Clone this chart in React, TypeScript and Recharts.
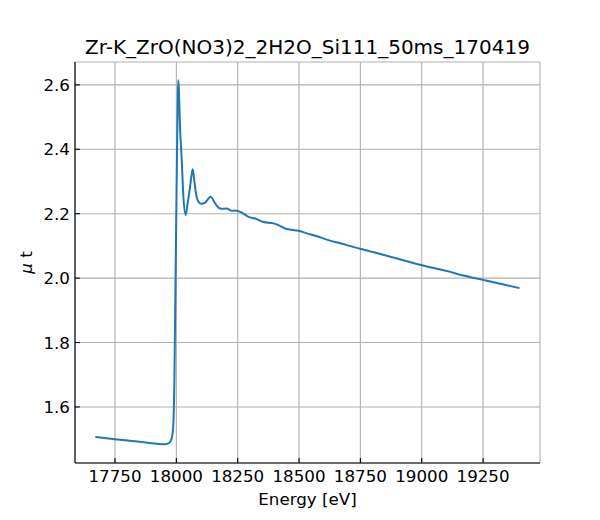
import React from 'react';
import {
  LineChart,
  Line,
  XAxis,
  YAxis,
  CartesianGrid,
  Customized,
} from 'recharts';

// Spectrum
const energy = [
  17670, 17750, 17850, 17920, 17954, 17970, 17980, 17985, 17988, 17992,
  17995, 17999, 18003, 18006, 18008, 18011, 18015, 18022, 18028, 18038,
  18046, 18056, 18063, 18067, 18073, 18080, 18090, 18100, 18117, 18132,
  18140, 18154, 18170, 18185, 18205, 18226, 18240, 18253, 18270, 18294,
  18321, 18355, 18396, 18420, 18443, 18470, 18497, 18532, 18573, 18620,
  18668, 18749, 18790, 18831, 18899, 19001, 19103, 19170, 19252, 19334,
  19399,
];
const mu = [
  1.507, 1.5, 1.492, 1.486, 1.484, 1.488, 1.5, 1.52, 1.55, 1.683,
  1.88, 2.149, 2.4, 2.56, 2.615, 2.57, 2.47, 2.366, 2.263, 2.196,
  2.232, 2.284, 2.325, 2.338, 2.304, 2.263, 2.237, 2.231, 2.234, 2.248,
  2.253, 2.237, 2.22, 2.215, 2.216, 2.209, 2.21, 2.208, 2.202, 2.19,
  2.185, 2.174, 2.17, 2.163, 2.154, 2.15, 2.147, 2.139, 2.13, 2.118,
  2.108, 2.091, 2.083, 2.075, 2.061, 2.04, 2.022, 2.008, 1.994, 1.98,
  1.969,
];

const xTicks = [17750, 18000, 18250, 18500, 18750, 19000, 19250];
const yTicks = [1.6, 1.8, 2.0, 2.2, 2.4, 2.6];
const xDomain = [17587, 19482];
const yDomain = [1.426, 2.671];

const TITLE = 'Zr-K_ZrO(NO3)2_2H2O_Si111_50ms_170419';
const FONT = '"DejaVu Sans", sans-serif';
const FS = 16.7;
const TICK_PAD = 5;
const TICK_LEN = 4.9;

const data = energy.map((e, i) => ({ energy: e, mu: mu[i] }));

const XTick = (props: any) => {
  const { x, y, payload } = props;
  const axisY = y - TICK_PAD;
  return (
    <g>
      <line x1={x} x2={x} y1={axisY} y2={axisY - TICK_LEN} stroke="#000" strokeWidth={1.1} />
      <text x={x} y={y} dy={13.5} textAnchor="middle" fontSize={FS} fontFamily={FONT} fill="#000">
        {payload.value}
      </text>
    </g>
  );
};

const YTick = (props: any) => {
  const { x, y, payload } = props;
  const axisX = x + TICK_PAD;
  return (
    <g>
      <line x1={axisX} x2={axisX + TICK_LEN} y1={y} y2={y} stroke="#000" strokeWidth={1.1} />
      <text x={x} y={y} dy={6} textAnchor="end" fontSize={FS} fontFamily={FONT} fill="#000">
        {Number(payload.value).toFixed(1)}
      </text>
    </g>
  );
};

const App: React.FC = () => {
  return (
    <div style={{ position: 'absolute', left: 0, top: 0, background: '#fff' }}>
      <LineChart
        width={600}
        height={520}
        data={data}
        margin={{ top: 62, right: 60, bottom: 0, left: 0 }}
      >
        <CartesianGrid stroke="#b0b0b0" strokeWidth={1.1} />
        <XAxis
          dataKey="energy"
          type="number"
          domain={xDomain}
          ticks={xTicks}
          height={57}
          tickSize={0}
          tickMargin={TICK_PAD}
          tick={<XTick />}
          axisLine={{ stroke: '#000', strokeWidth: 1.1 }}
          allowDataOverflow
          label={{
            content: (p: any) => (
              <text
                x={p.viewBox.x + p.viewBox.width / 2}
                y={p.viewBox.y + 42}
                textAnchor="middle"
                fontSize={FS}
                fontFamily={FONT}
                fill="#000"
              >
                Energy [eV]
              </text>
            ),
          }}
        />
        <XAxis
          xAxisId="top"
          orientation="top"
          type="number"
          domain={xDomain}
          height={0}
          tick={false}
          tickLine={false}
          axisLine={{ stroke: '#000', strokeWidth: 1.1 }}
        />
        <YAxis
          type="number"
          domain={yDomain}
          ticks={yTicks}
          width={75}
          tickSize={0}
          tickMargin={TICK_PAD}
          tick={<YTick />}
          axisLine={{ stroke: '#000', strokeWidth: 1.1 }}
          allowDataOverflow
          label={{
            content: (p: any) => (
              <text
                x={26}
                y={p.viewBox.y + p.viewBox.height / 2}
                transform={`rotate(-90 26 ${p.viewBox.y + p.viewBox.height / 2})`}
                textAnchor="middle"
                dominantBaseline="central"
                fontSize={FS}
                fontFamily={FONT}
                fill="#000"
              >
                <tspan fontStyle="italic">μ</tspan> t
              </text>
            ),
          }}
        />
        <YAxis
          yAxisId="right"
          orientation="right"
          type="number"
          domain={yDomain}
          width={0}
          tick={false}
          tickLine={false}
          axisLine={{ stroke: '#000', strokeWidth: 1.1 }}
        />
        <Line
          type="monotone"
          dataKey="mu"
          stroke="#1f77b4"
          strokeWidth={2}
          dot={false}
          isAnimationActive={false}
        />
        <Customized
          component={() => (
            <text x={307.5} y={54} textAnchor="middle" fontSize={20} fontFamily={FONT} fill="#000">
              {TITLE}
            </text>
          )}
        />
      </LineChart>
    </div>
  );
};

export default App;
